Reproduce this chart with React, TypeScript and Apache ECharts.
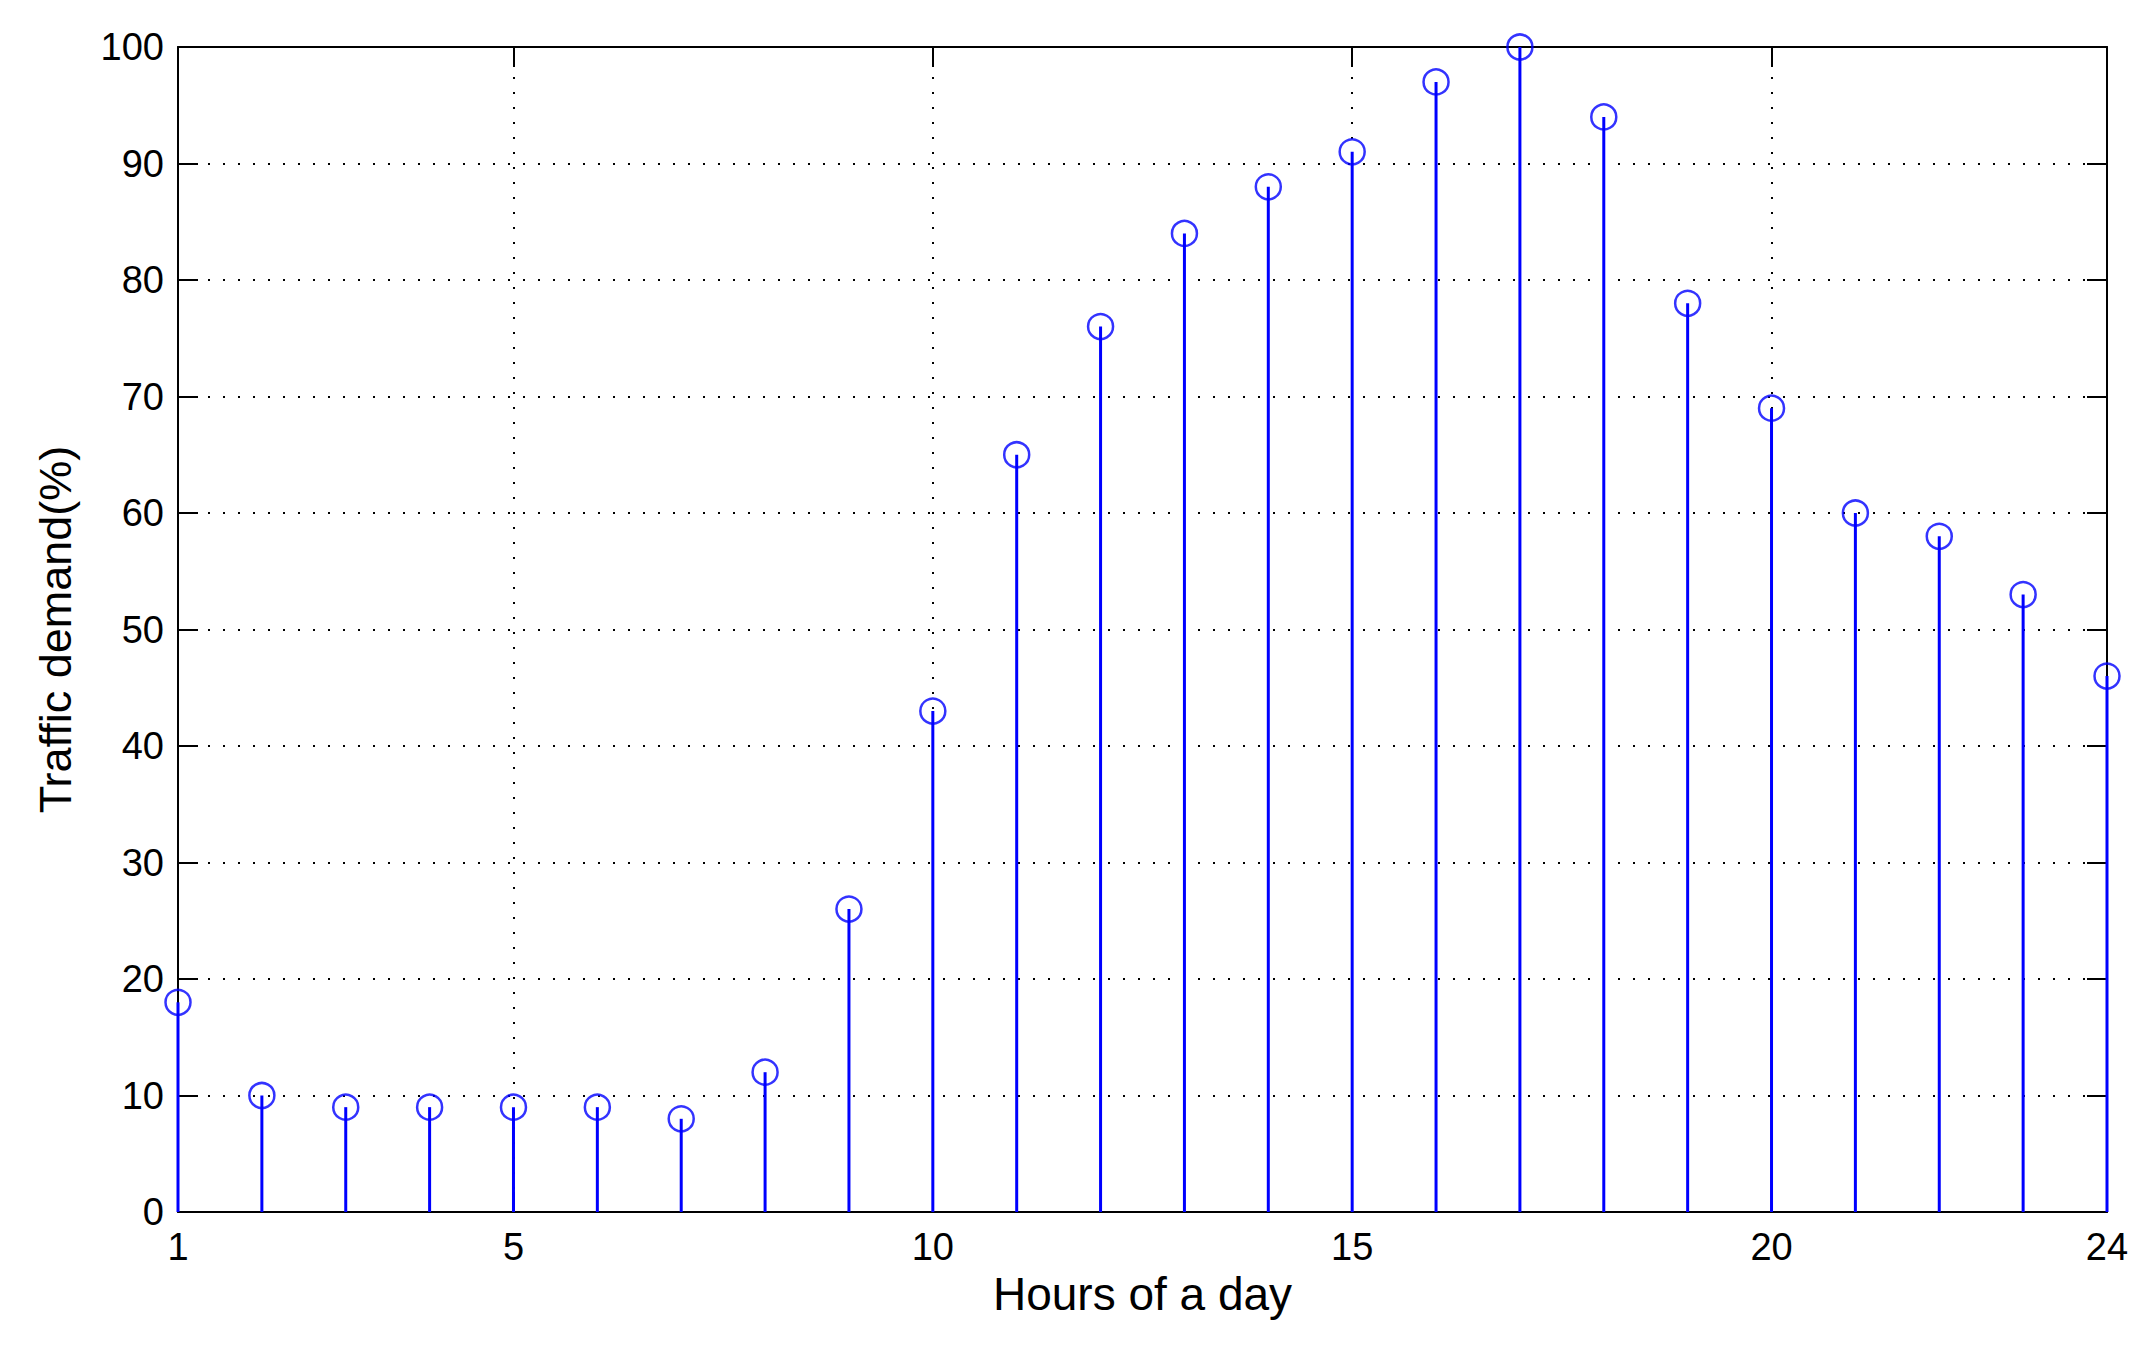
import React, { useEffect, useRef } from "react";
import * as echarts from "echarts";

const hours = [1, 2, 3, 4, 5, 6, 7, 8, 9, 10, 11, 12, 13, 14, 15, 16, 17, 18, 19, 20, 21, 22, 23, 24];
const demand = [18, 10, 9, 9, 9, 9, 8, 12, 26, 43, 65, 76, 84, 88, 91, 97, 100, 94, 78, 69, 60, 58, 53, 46];
const xTicks = [1, 5, 10, 15, 20, 24];
const yTicks = [0, 10, 20, 30, 40, 50, 60, 70, 80, 90, 100];

const FONT = "'Liberation Sans', Arial, Helvetica, sans-serif";
const BLUE = "#0000FF";

export default function App() {
  const ref = useRef<HTMLDivElement>(null);
  useEffect(() => {
    document.body.style.margin = "0";
    const chart = echarts.init(ref.current!, null, { renderer: "svg" });
    const points = hours.map((h, i) => [h, demand[i]]);
    const gridLine = { show: true, lineStyle: { color: "#000", width: 2, type: [2, 13] as any } };
    const axisLine = { show: true, onZero: false, lineStyle: { color: "#000", width: 2 } };
    const tick = (vals: number[]) => ({ show: true, inside: true, length: 20, lineStyle: { color: "#000", width: 2 }, customValues: vals });
    chart.setOption({
      animation: false,
      backgroundColor: "#fff",
      grid: { left: 178, right: 44, top: 47, bottom: 139, containLabel: false },
      xAxis: [
        {
          type: "value",
          min: 1,
          max: 24,
          position: "bottom",
          axisLine,
          axisTick: tick(xTicks),
          axisLabel: { customValues: xTicks, color: "#000", fontSize: 38, fontFamily: FONT, margin: 16 },
          splitLine: gridLine,
          name: "Hours of a day",
          nameLocation: "middle",
          nameGap: 55,
          nameTextStyle: { color: "#000", fontSize: 46, fontFamily: FONT },
        },
        {
          type: "value",
          min: 1,
          max: 24,
          position: "top",
          axisLine,
          axisTick: tick(xTicks),
          axisLabel: { show: false },
          splitLine: { show: false },
        },
      ],
      yAxis: [
        {
          type: "value",
          min: 0,
          max: 100,
          interval: 10,
          position: "left",
          axisLine,
          axisTick: tick(yTicks),
          axisLabel: { color: "#000", fontSize: 38, fontFamily: FONT, margin: 14 },
          splitLine: gridLine,
          name: "Traffic demand(%)",
          nameLocation: "middle",
          nameGap: 100,
          nameRotate: 90,
          nameTextStyle: { color: "#000", fontSize: 45, fontFamily: FONT },
        },
        {
          type: "value",
          min: 0,
          max: 100,
          interval: 10,
          position: "right",
          axisLine,
          axisTick: tick(yTicks),
          axisLabel: { show: false },
          splitLine: { show: false },
        },
      ],
      series: [
        {
          type: "bar",
          xAxisIndex: 0,
          yAxisIndex: 0,
          data: points,
          barWidth: 3,
          itemStyle: { color: BLUE },
          z: 3,
        },
        {
          type: "scatter",
          xAxisIndex: 0,
          yAxisIndex: 0,
          data: points,
          symbol: "circle",
          symbolSize: 25,
          clip: false,
          itemStyle: { color: "rgba(0,0,0,0)", borderColor: BLUE, borderWidth: 2.5 },
          z: 4,
        },
      ],
    });
    return () => chart.dispose();
  }, []);
  return <div ref={ref} style={{ width: 2151, height: 1351 }} />;
}
